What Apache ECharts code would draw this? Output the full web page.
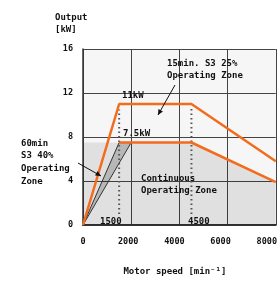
<!DOCTYPE html>
<html><head><meta charset="utf-8">
<script src="https://cdn.jsdelivr.net/npm/echarts@6/dist/echarts.min.js"></script>
<style>html,body{margin:0;padding:0;background:#fff}#c{width:280px;height:281px}</style>
</head><body><div id="c"></div>
<script>
// ---- data ----
const speedTicks = [0, 2000, 4000, 6000, 8000];
const outputTicks = [0, 4, 8, 12, 16];
const s3_25Zone = [[0, 0], [1500, 11], [4500, 11], [8000, 5.8]];      // 15min S3 25% (11 kW)
const continuousLine = [[1500, 7.5], [4500, 7.5], [8000, 3.9]];      // continuous (7.5 kW)
const continuousArea = [[0, 7.5], [4500, 7.5], [8000, 3.9]];
const s3_40Band = [[0, 0], [1500, 7.5], [2000, 7.5]];                // 60min S3 40% band
const marker1500 = [[1500, 1], [1500, 10.5]];
const marker4500 = [[4500, 1], [4500, 10.6]];

const FONT = '"DejaVu Sans Mono", monospace';
const ORANGE = '#f36b1c';
const INK = '#111';
const labelShift = {0: 0, 2000: 6, 4000: 10, 6000: 14, 8000: 18};
const rich = {};
speedTicks.forEach(v => { rich['l' + v] = {fontFamily: FONT, fontWeight: 'bold', fontSize: 8.5, color: INK, padding: [0, labelShift[v], 0, 0]}; });

const chart = echarts.init(document.getElementById('c'), null, {renderer: 'canvas'});
const txt = (x, y, s, lh) => ({type: 'text', left: x, top: y, z: 100,
  style: {text: s, font: 'bold 9px ' + FONT, fill: INK, lineHeight: lh || 12}});
const arrow = (x1, y1, x2, y2) => {
  const a = Math.atan2(y2 - y1, x2 - x1), L = 6, w = 0.45;
  return [
    {type: 'line', z: 100, shape: {x1, y1, x2, y2}, style: {stroke: INK, lineWidth: 1}},
    {type: 'polygon', z: 100, shape: {points: [[x2, y2],
      [x2 - L * Math.cos(a - w), y2 - L * Math.sin(a - w)],
      [x2 - L * Math.cos(a + w), y2 - L * Math.sin(a + w)]]}, style: {fill: INK}}
  ];
};

chart.setOption({
  animation: false,
  grid: {left: 83, right: 3, top: 49, bottom: 55, show: true, backgroundColor: '#f6f6f6', borderWidth: 0},
  xAxis: {
    type: 'value', min: 0, max: 8000, interval: 2000,
    name: 'Motor speed [min⁻¹]', nameLocation: 'middle', nameGap: 42,
    nameTextStyle: {fontFamily: FONT, fontWeight: 'bold', fontSize: 9, color: INK, padding: [0, 9, 0, 0]},
    axisLine: {show: true, onZero: false, lineStyle: {color: '#333', width: 2}},
    axisTick: {show: false},
    splitLine: {show: true, lineStyle: {color: '#444', width: 1}},
    axisLabel: {margin: 12, formatter: v => '{l' + v + '|' + v + '}', rich: rich}
  },
  yAxis: {
    type: 'value', min: 0, max: 16, interval: 4,
    axisLine: {show: true, lineStyle: {color: '#333', width: 1.5}},
    axisTick: {show: false},
    splitLine: {show: true, lineStyle: {color: '#444', width: 1}},
    axisLabel: {margin: 10, fontFamily: FONT, fontWeight: 'bold', fontSize: 8.5, color: INK,
      formatter: v => outputTicks.includes(v) ? String(v) : ''}
  },
  series: [
    {type: 'line', data: continuousArea, symbol: 'none', lineStyle: {width: 0, opacity: 0},
      areaStyle: {color: 'rgba(0,0,0,0.12)', origin: 'start'}, z: 1},
    {type: 'custom', data: s3_40Band, z: 2,
      renderItem: (params, api) => {
        if (params.dataIndex !== 0) return null;
        return {type: 'polygon', shape: {points: s3_40Band.map(p => api.coord(p))},
          style: {fill: 'rgba(0,0,0,0.18)', stroke: '#333', lineWidth: 1}};
      }},
    {type: 'line', data: marker1500, symbol: 'none', z: 3,
      lineStyle: {color: '#555', width: 2, type: [1.5, 3]}},
    {type: 'line', data: marker4500, symbol: 'none', z: 3,
      lineStyle: {color: '#555', width: 2, type: [1.5, 3]}},
    {type: 'line', data: continuousLine, symbol: 'none', z: 4,
      lineStyle: {color: ORANGE, width: 2.5}},
    {type: 'line', data: s3_25Zone, symbol: 'none', z: 5,
      lineStyle: {color: ORANGE, width: 2.5}}
  ],
  graphic: [
    txt(55, 12, 'Output\n[kW]'),
    txt(122, 90, '11kW'),
    txt(123, 128, '7.5kW'),
    txt(167, 58, '15min. S3 25%\nOperating Zone'),
    txt(21, 137, '60min\nS3 40%\nOperating\nZone', 12.7),
    txt(141, 173, 'Continuous\nOperating Zone'),
    txt(100, 216, '1500'),
    txt(188, 216, '4500'),
    ...arrow(175, 85, 158, 115),
    ...arrow(78, 163, 101, 176)
  ]
});
</script></body></html>
